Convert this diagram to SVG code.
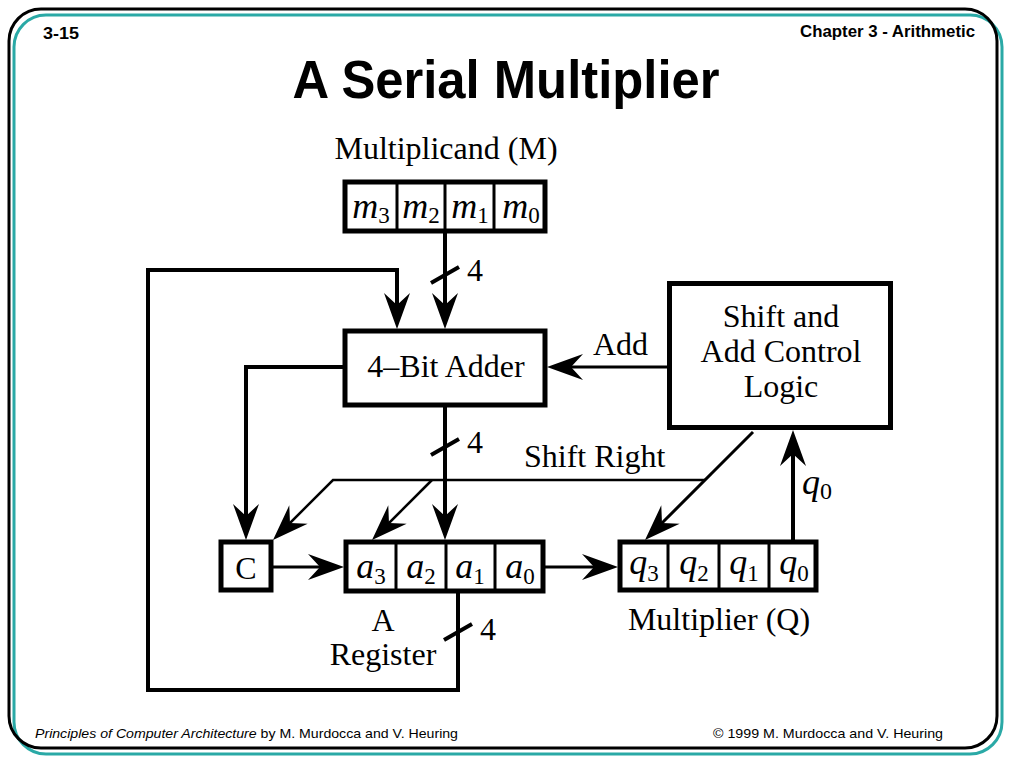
<svg xmlns="http://www.w3.org/2000/svg" width="1024" height="768" viewBox="0 0 1024 768">
<defs>
<style>
.frame{fill:none;stroke-width:3}
.box{fill:#fff;stroke:#000;stroke-width:5}
.div{stroke:#000;stroke-width:3}
.w{fill:none;stroke:#000;stroke-linejoin:miter}
.t4{stroke-width:4}
.t3{stroke-width:3}
.t25{stroke-width:2.5}
.tx{font-family:"Liberation Serif","Times New Roman",serif;font-size:32px;fill:#000}
.cell{font-family:"Liberation Serif","Times New Roman",serif;font-size:36px;fill:#000}
.lbl{font-family:"Liberation Serif","Times New Roman",serif;font-size:32px;fill:#000}
.it{font-style:italic}
.hd{font-family:"Liberation Sans",Arial,sans-serif;font-weight:bold;fill:#000}
.ft{font-family:"Liberation Sans",Arial,sans-serif;font-size:13px;fill:#000}
</style>
<marker id="ah" markerUnits="userSpaceOnUse" markerWidth="40" markerHeight="30" viewBox="-40 -15 40 30" refX="-12" refY="0" orient="auto" overflow="visible">
<path d="M0,0 L-36,-13 L-24,0 L-36,13 Z" fill="#000"/>
</marker>
</defs>
<rect width="1024" height="768" fill="#fff"/>
<rect class="frame" x="14" y="15" width="988" height="739" rx="32" stroke="#2aa9a6"/>
<rect class="frame" x="9" y="9" width="988" height="739" rx="32" stroke="#000"/>
<text class="hd" x="43" y="39" font-size="16" textLength="36" lengthAdjust="spacingAndGlyphs">3-15</text>
<text class="hd" x="975" y="37" font-size="16" text-anchor="end" textLength="175" lengthAdjust="spacingAndGlyphs">Chapter 3 - Arithmetic</text>
<text class="hd" x="506" y="98" font-size="53" text-anchor="middle" textLength="427" lengthAdjust="spacingAndGlyphs">A Serial Multiplier</text>
<text class="ft" x="35" y="738" textLength="423" lengthAdjust="spacingAndGlyphs"><tspan font-style="italic">Principles of Computer Architecture</tspan> by M. Murdocca and V. Heuring</text>
<text class="ft" x="943" y="738" text-anchor="end" textLength="230" lengthAdjust="spacingAndGlyphs">© 1999 M. Murdocca and V. Heuring</text>

<g id="connectors">
<path class="w t4" d="M445,233 V317" marker-end="url(#ah)"/>
<path class="w t4" d="M458,593 V690 H148 V270 H397 V317" marker-end="url(#ah)"/>
<path class="w t4" d="M343,367 H246 V528" marker-end="url(#ah)"/>
<path class="w t4" d="M445,407 V528" marker-end="url(#ah)"/>
<path class="w t25" d="M705,480 H333 L281.5,531.5" marker-end="url(#ah)"/>
<path class="w t25" d="M432,480 L380.5,531.5" marker-end="url(#ah)"/>
<path class="w t3" d="M753,432 L653.5,531.5" marker-end="url(#ah)"/>
<path class="w t3" d="M667,367 H559" marker-end="url(#ah)"/>
<path class="w t4" d="M793,541 V442" marker-end="url(#ah)"/>
<path class="w t3" d="M273,567 H332" marker-end="url(#ah)"/>
<path class="w t3" d="M545,567 H606" marker-end="url(#ah)"/>
<path class="w t4" d="M431,283 L459,267 M431,455 L459,439 M444,640 L472,624"/>
<text class="lbl" x="467" y="281">4</text>
<text class="lbl" x="467" y="453">4</text>
<text class="lbl" x="480" y="640">4</text>
<text class="tx" x="593" y="355">Add</text>
<text class="tx" x="524" y="467">Shift Right</text>
<text class="cell" x="802" y="494"><tspan class="it">q</tspan><tspan dy="5" font-size="24">0</tspan></text>
</g>

<g id="multiplicand">
<text class="tx" x="446" y="159" text-anchor="middle">Multiplicand (M)</text>
<rect class="box" x="345" y="182" width="200" height="49"/>
<path class="div" d="M397,182 V231 M445,182 V231 M494,182 V231"/>
<text class="cell" x="371" y="218" text-anchor="middle"><tspan class="it">m</tspan><tspan dy="5" font-size="23">3</tspan></text>
<text class="cell" x="421" y="218" text-anchor="middle"><tspan class="it">m</tspan><tspan dy="5" font-size="23">2</tspan></text>
<text class="cell" x="470" y="218" text-anchor="middle"><tspan class="it">m</tspan><tspan dy="5" font-size="23">1</tspan></text>
<text class="cell" x="521" y="218" text-anchor="middle"><tspan class="it">m</tspan><tspan dy="5" font-size="23">0</tspan></text>
</g>

<g id="adder">
<rect class="box" x="345" y="331" width="200" height="74"/>
<text class="tx" x="446" y="377" text-anchor="middle">4–Bit Adder</text>
</g>

<g id="control">
<rect class="box" x="669.5" y="283.5" width="221" height="144"/>
<text class="tx" x="781" y="327" text-anchor="middle">Shift and</text>
<text class="tx" x="781" y="362" text-anchor="middle">Add Control</text>
<text class="tx" x="781" y="397" text-anchor="middle">Logic</text>
</g>

<g id="c-reg">
<rect class="box" x="221" y="542" width="50" height="48"/>
<text class="tx" x="246" y="579" text-anchor="middle">C</text>
</g>

<g id="a-reg">
<rect class="box" x="346" y="542" width="197" height="49"/>
<path class="div" d="M396,542 V591 M446,542 V591 M495,542 V591"/>
<text class="cell" x="371" y="578" text-anchor="middle"><tspan class="it">a</tspan><tspan dy="6" font-size="23">3</tspan></text>
<text class="cell" x="421" y="578" text-anchor="middle"><tspan class="it">a</tspan><tspan dy="6" font-size="23">2</tspan></text>
<text class="cell" x="470" y="578" text-anchor="middle"><tspan class="it">a</tspan><tspan dy="6" font-size="23">1</tspan></text>
<text class="cell" x="520" y="578" text-anchor="middle"><tspan class="it">a</tspan><tspan dy="6" font-size="23">0</tspan></text>
<text class="tx" x="383" y="631" text-anchor="middle">A</text>
<text class="tx" x="383" y="665" text-anchor="middle">Register</text>
</g>

<g id="q-reg">
<rect class="box" x="620" y="542" width="196" height="48"/>
<path class="div" d="M668,542 V590 M719,542 V590 M769,542 V590"/>
<text class="cell" x="644" y="574" text-anchor="middle"><tspan class="it">q</tspan><tspan dy="7" font-size="23">3</tspan></text>
<text class="cell" x="694" y="574" text-anchor="middle"><tspan class="it">q</tspan><tspan dy="7" font-size="23">2</tspan></text>
<text class="cell" x="744" y="574" text-anchor="middle"><tspan class="it">q</tspan><tspan dy="7" font-size="23">1</tspan></text>
<text class="cell" x="794" y="574" text-anchor="middle"><tspan class="it">q</tspan><tspan dy="7" font-size="23">0</tspan></text>
<text class="tx" x="719" y="630" text-anchor="middle">Multiplier (Q)</text>
</g>
</svg>
